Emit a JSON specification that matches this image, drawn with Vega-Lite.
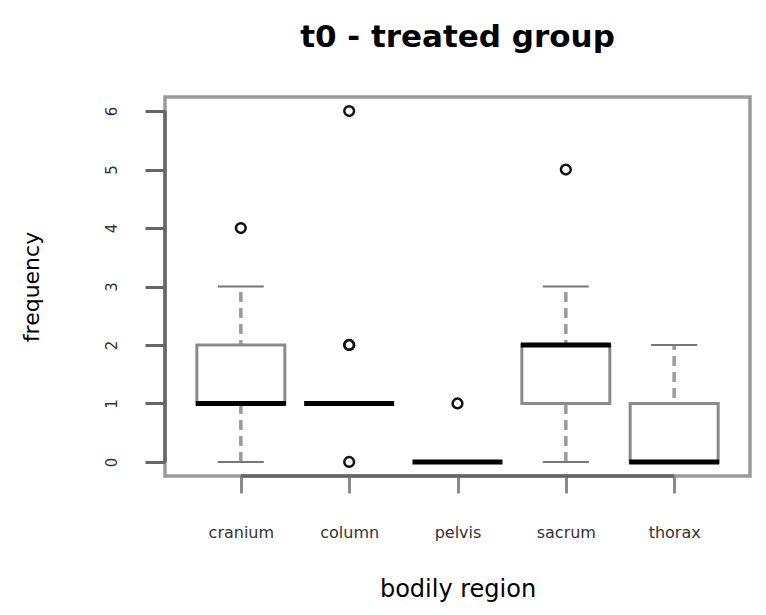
{
  "$schema": "https://vega.github.io/schema/vega-lite/v6.json",
  "autosize": {"type": "none"},
  "width": 585,
  "height": 379,
  "padding": {"left": 165, "top": 97, "right": 16, "bottom": 139},
  "background": "white",
  "title": {
    "text": "t0 - treated group",
    "font": "DejaVu Sans",
    "fontWeight": "bold",
    "fontSize": 31,
    "color": "#000000",
    "anchor": "middle",
    "baseline": "bottom",
    "offset": 12
  },
  "config": {
    "view": {"stroke": "#9a9a9a", "strokeWidth": 3.5},
    "scale": {"continuousPadding": 0},
    "axis": {"grid": false, "domain": false, "labelFont": "DejaVu Sans", "titleFont": "DejaVu Sans", "titleFontWeight": "normal", "labelColor": "#333333", "titleColor": "#000000"}
  },
  "datasets": {
    "boxes": [
      {"region": "cranium", "pos": 1, "lower": 0, "q1": 1, "median": 1, "q3": 2, "upper": 3},
      {"region": "column", "pos": 2, "lower": 1, "q1": 1, "median": 1, "q3": 1, "upper": 1},
      {"region": "pelvis", "pos": 3, "lower": 0, "q1": 0, "median": 0, "q3": 0, "upper": 0},
      {"region": "sacrum", "pos": 4, "lower": 0, "q1": 1, "median": 2, "q3": 2, "upper": 3},
      {"region": "thorax", "pos": 5, "lower": 0, "q1": 0, "median": 0, "q3": 1, "upper": 2}
    ],
    "outliers": [
      {"region": "cranium", "pos": 1, "value": 4},
      {"region": "column", "pos": 2, "value": 0},
      {"region": "column", "pos": 2, "value": 2},
      {"region": "column", "pos": 2, "value": 2},
      {"region": "column", "pos": 2, "value": 6},
      {"region": "pelvis", "pos": 3, "value": 1},
      {"region": "sacrum", "pos": 4, "value": 5}
    ],
    "axislines": [
      {"xfrom": 1, "xto": 5, "yfrom": 0, "yto": 6}
    ]
  },
  "layer": [
    {
      "data": {"name": "boxes"},
      "mark": {"type": "rule", "color": "#9a9a9a", "strokeWidth": 3.5, "strokeDash": [10, 6]},
      "encoding": {
        "x": {
          "field": "pos", "type": "quantitative",
          "scale": {"domain": [0.3, 5.7], "nice": false, "zero": false, "padding": 0},
          "axis": {
            "values": [1, 2, 3, 4, 5],
            "labelExpr": "['', 'cranium', 'column', 'pelvis', 'sacrum', 'thorax'][datum.value]",
            "title": "bodily region",
            "tickSize": 17, "tickWidth": 3, "tickColor": "#8a8a8a",
            "labelFontSize": 16, "labelBaseline": "middle", "labelPadding": 39,
            "titleFontSize": 24, "titlePadding": 37
          }
        },
        "y": {
          "field": "lower", "type": "quantitative",
          "scale": {"domain": [-0.24, 6.24], "nice": false, "zero": false, "padding": 0},
          "axis": {
            "values": [0, 1, 2, 3, 4, 5, 6],
            "format": "d",
            "title": "frequency",
            "tickSize": 20, "tickWidth": 3, "tickColor": "#666666",
            "labelFontSize": 15, "labelAngle": 270, "labelAlign": "center", "labelBaseline": "middle", "labelPadding": 34,
            "titleFontSize": 22, "titlePadding": 61
          }
        },
        "y2": {"field": "upper"}
      }
    },
    {
      "data": {"name": "axislines"},
      "mark": {"type": "rule", "color": "#666666", "strokeWidth": 3.5},
      "encoding": {
        "x": {"datum": 0.3, "type": "quantitative"},
        "y": {"field": "yfrom", "type": "quantitative"},
        "y2": {"field": "yto"}
      }
    },
    {
      "data": {"name": "axislines"},
      "mark": {"type": "rule", "color": "#666666", "strokeWidth": 3.5},
      "encoding": {
        "y": {"datum": -0.24, "type": "quantitative"},
        "x": {"field": "xfrom", "type": "quantitative"},
        "x2": {"field": "xto"}
      }
    },
    {
      "data": {"name": "boxes"},
      "mark": {"type": "tick", "orient": "horizontal", "size": 46, "thickness": 2, "color": "#777777", "opacity": 1},
      "encoding": {
        "x": {"field": "pos", "type": "quantitative"},
        "y": {"field": "lower", "type": "quantitative"}
      }
    },
    {
      "data": {"name": "boxes"},
      "mark": {"type": "tick", "orient": "horizontal", "size": 46, "thickness": 2, "color": "#777777", "opacity": 1},
      "encoding": {
        "x": {"field": "pos", "type": "quantitative"},
        "y": {"field": "upper", "type": "quantitative"}
      }
    },
    {
      "data": {"name": "boxes"},
      "mark": {"type": "bar", "width": 88, "fill": "white", "stroke": "#8a8a8a", "strokeWidth": 3},
      "encoding": {
        "x": {"field": "pos", "type": "quantitative"},
        "y": {"field": "q1", "type": "quantitative"},
        "y2": {"field": "q3"}
      }
    },
    {
      "data": {"name": "boxes"},
      "mark": {"type": "tick", "orient": "horizontal", "size": 90, "thickness": 5, "color": "#000000", "opacity": 1},
      "encoding": {
        "x": {"field": "pos", "type": "quantitative"},
        "y": {"field": "median", "type": "quantitative"}
      }
    },
    {
      "data": {"name": "outliers"},
      "mark": {"type": "point", "shape": "circle", "filled": false, "size": 95, "stroke": "#111111", "strokeWidth": 2.5, "opacity": 1},
      "encoding": {
        "x": {"field": "pos", "type": "quantitative"},
        "y": {"field": "value", "type": "quantitative"}
      }
    }
  ]
}
